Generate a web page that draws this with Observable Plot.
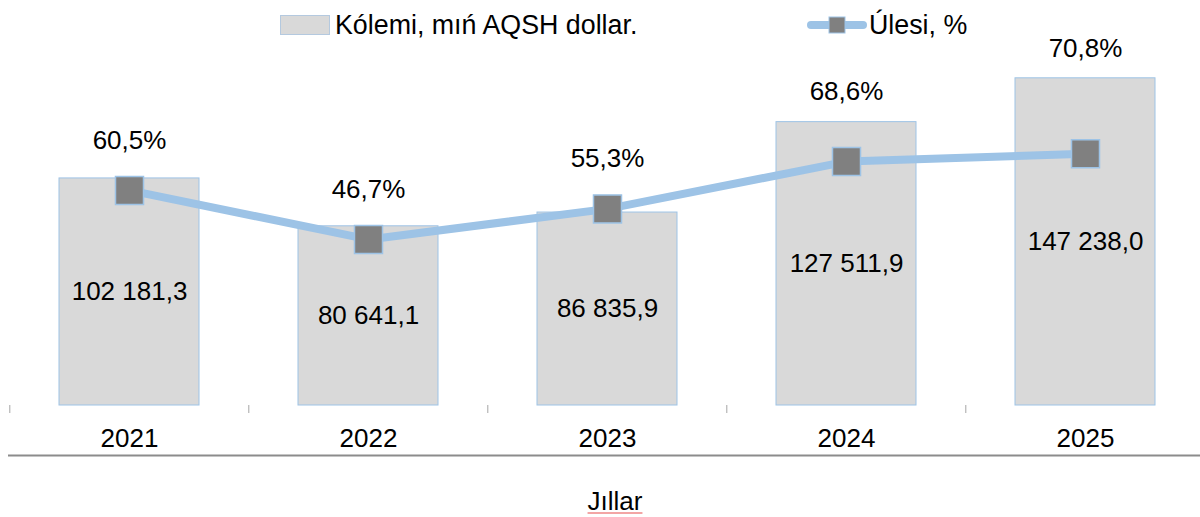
<!DOCTYPE html>
<html>
<head>
<meta charset="utf-8">
<script src="https://cdn.jsdelivr.net/npm/d3@7"></script>
<script src="https://cdn.jsdelivr.net/npm/@observablehq/plot@0.6"></script>
<style>
  html, body { margin: 0; padding: 0; background: #fff; }
  #wrap { position: relative; width: 1200px; height: 517px; overflow: hidden;
          font-family: "Liberation Sans", Arial, sans-serif; color: #000; }
  #chart { position: absolute; left: 0; top: 0; }
  .leg { position: absolute; top: 10px; height: 30px; display: flex; align-items: center;
         font-size: 26.8px; white-space: nowrap; }
  .sw-bar { display: inline-block; width: 50px; height: 20px; box-sizing: border-box;
            background: #D9D9D9; border: 1px solid #B4C9DF; margin-right: 5px; }
  #xtitle { position: absolute; left: 555px; width: 120px; top: 488px; text-align: center;
            font-size: 26px; line-height: 26px; }
  #xtitle span { text-decoration: underline; text-decoration-color: #f3a5a5; text-underline-offset: 2px; }
</style>
</head>
<body>
<div id="wrap">
  <div id="chart"></div>
  <div class="leg" style="left:280px"><span class="sw-bar"></span>Kólemi, mıń AQSH dollar.</div>
  <div class="leg" style="left:806px">
    <svg width="62" height="30" style="margin-right:1px">
      <line x1="5" y1="15" x2="57" y2="15" stroke="#9DC3E6" stroke-width="8" stroke-linecap="round"></line>
      <rect x="23" y="7" width="16" height="16" fill="#808080" stroke="#9DC3E6" stroke-width="1"></rect>
    </svg>Úlesi, %</div>
  <div id="xtitle"><span>Jıllar</span></div>
</div>
<script>
const years = ["2021", "2022", "2023", "2024", "2025"];
const volumes = [102181.3, 80641.1, 86835.9, 127511.9, 147238.0];
const shares = [60.5, 46.7, 55.3, 68.6, 70.8];

const loc = d3.formatLocale({decimal: ",", thousands: " ", grouping: [3], currency: ["", ""]});
const fmtVal = loc.format(",.1f");
const fmtPct = loc.format(".1f");
const pctToY = 1600; // secondary axis: 1 % = 1600 primary units
const yMax = 182250;
const plotH = 405;   // pixel height of the plotting frame
const unitsPerPx = yMax / plotH;
const data = years.map((year, i) => ({year, volume: volumes[i], share: shares[i]}));

const x0 = 8, x1 = 1205;
const step = (x1 - x0) / years.length;
const font = '"Liberation Sans", Arial, sans-serif';
const fs = 26;

// share label: ~50px above its marker, but kept ~30px clear above the bar top
const shareLabelY = d => Math.max(d.share * pctToY + 50 * unitsPerPx, d.volume + 30 * unitsPerPx);

const plot = Plot.plot({
  width: 1200,
  height: 517,
  marginTop: 0,
  marginBottom: 517 - plotH,
  marginLeft: 8,
  marginRight: 0,
  style: {fontFamily: font, fontSize: fs + "px", color: "#000", background: "transparent"},
  x: {domain: years, range: [x0, x1], paddingInner: 0.415, paddingOuter: 0.2075, axis: null, label: null},
  y: {domain: [0, yMax], axis: null},
  marks: [
    Plot.barY(data, {x: "year", y: "volume", fill: "#D9D9D9", stroke: "#9DC3E6", strokeWidth: 1}),
    Plot.text(data, {x: "year", y: d => d.volume / 2, text: d => fmtVal(d.volume),
                     fontSize: fs, fill: "#000"}),
    Plot.lineY(data, {x: "year", y: d => d.share * pctToY, stroke: "#9DC3E6", strokeWidth: 8}),
    Plot.dot(data, {x: "year", y: d => d.share * pctToY, symbol: "square", r: 15.8,
                    fill: "#808080", stroke: "#9DC3E6", strokeWidth: 1.5}),
    Plot.text(data, {x: "year", y: shareLabelY,
                     text: d => fmtPct(d.share) + "%", fontSize: fs, fill: "#000"}),
    Plot.axisX({tickSize: 8, tickFormat: () => "", label: null, dx: -step / 2,
                stroke: "#A6A6A6", strokeWidth: 1}),
    Plot.text(years, {x: d => d, frameAnchor: "bottom", lineAnchor: "middle", dy: 33, text: d => d,
                      fontSize: fs, fill: "#000"}),
    Plot.ruleY([0], {dy: 50, stroke: "#8C8C8C", strokeWidth: 2})
  ]
});
document.getElementById("chart").appendChild(plot);
</script>
</body>
</html>
